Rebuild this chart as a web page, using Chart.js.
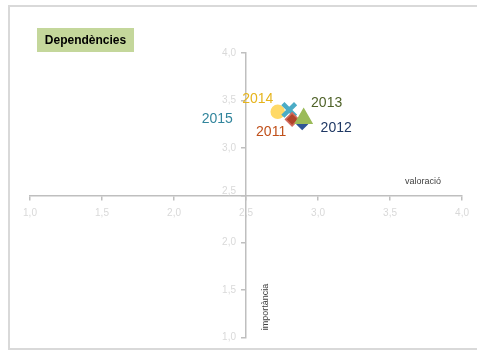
<!DOCTYPE html>
<html>
<head>
<meta charset="utf-8">
<script src="https://cdn.jsdelivr.net/npm/chart.js@4"></script>
<style>
  html, body { margin: 0; padding: 0; background: #fff; }
  #wrap { width: 477px; height: 351px; }
</style>
</head>
<body>
<div id="wrap"><canvas id="myChart"></canvas></div>
<script>
// data
const years = ['2011', '2012', '2013', '2014', '2015'];
const valoracio = [2.82, 2.89, 2.90, 2.72, 2.80];
const importancia = [3.30, 3.25, 3.31, 3.38, 3.40];
const axisTicks = [1.0, 1.5, 2.0, 2.5, 3.0, 3.5, 4.0];

const pointStyles = ['rectRot', 'rectRot', 'triangle', 'circle', 'crossRot'];
const fillColors = ['#b0442a', '#2f5597', '#9bbb59', '#ffd966', '#4bacc6'];
const edgeColors = ['#d2695c', '#2f5597', '#9bbb59', '#ffd966', '#4bacc6'];
const labelColors = ['#c0501a', '#1f3864', '#4f6228', '#e6b41c', '#31859c'];
const labelOffsets = [[-21, 13], [34, 4], [23, -15], [-20, -13], [-72, 9]];
const drawOrder = [3, 2, 1, 5, 4];

function fmt(v) { return v.toFixed(1).replace('.', ','); }

const labelsPlugin = {
    id: 'extras',
    beforeDraw(chart) {
        const c = chart.ctx;
        c.save();
        c.strokeStyle = '#d9d9d9';
        c.lineWidth = 2;
        c.strokeRect(9, 6, 470, 343);
        // title box
        c.fillStyle = '#c4d79b';
        c.fillRect(37, 28, 97, 24);
        c.fillStyle = '#000';
        c.font = 'bold 12px "Liberation Sans"';
        c.textAlign = 'center';
        c.textBaseline = 'middle';
        c.fillText('Dependències', 85.5, 40.5);
        c.restore();
    },
    afterDatasetsDraw(chart) {
        const c = chart.ctx;
        c.save();
        // y tick labels, left of the crossing axis
        const ys = chart.scales.y;
        const xAxisPx = chart.scales.x.getPixelForValue(2.5);
        c.fillStyle = '#d9d9d9';
        c.font = '10px "Liberation Sans"';
        c.textAlign = 'right';
        c.textBaseline = 'middle';
        axisTicks.forEach(v => {
            c.fillText(fmt(v), xAxisPx - 10, ys.getPixelForValue(v) - (v === 2.5 ? 4 : 0));
        });
        c.font = '14px "Liberation Sans"';
        c.textAlign = 'center';
        chart.data.datasets.forEach((ds, i) => {
            const pt = chart.getDatasetMeta(i).data[0];
            c.fillStyle = labelColors[i];
            c.fillText(ds.label, pt.x + labelOffsets[i][0], pt.y + labelOffsets[i][1]);
        });
        // axis titles
        c.fillStyle = '#404040';
        c.font = '9px "Liberation Sans"';
        c.fillText('valoració', 423, 182);
        c.translate(266, 307);
        c.rotate(-Math.PI / 2);
        c.fillText('importància', 0, 0);
        c.restore();
    }
};

function initChart() {
    const ctx = document.getElementById('myChart').getContext('2d');
    new Chart(ctx, {
        type: 'scatter',
        data: {
            datasets: years.map((y, i) => ({
                label: y,
                data: [{ x: valoracio[i], y: importancia[i] }],
                pointStyle: pointStyles[i],
                backgroundColor: fillColors[i],
                borderColor: edgeColors[i],
                borderWidth: pointStyles[i] === 'crossRot' ? 4.5 : 1.5,
                pointRadius: pointStyles[i] === 'triangle' ? 9.5 : (pointStyles[i] === 'crossRot' ? 9 : (i === 1 ? 5 : 6.5)),
                order: drawOrder[i]
            }))
        },
        options: {
            responsive: true,
            maintainAspectRatio: false,
            animation: false,
            layout: { padding: { left: 30, right: 14, top: 53, bottom: 7 } },
            plugins: {
                legend: { display: false },
                tooltip: { enabled: false }
            },
            scales: {
                x: {
                    type: 'linear',
                    min: 1, max: 4,
                    position: { y: 2.5 },
                    afterBuildTicks: s => { s.ticks = axisTicks.map(v => ({ value: v })); },
                    ticks: {
                        color: '#d9d9d9',
                        font: { family: 'Liberation Sans', size: 10 },
                        padding: 8,
                        callback: v => fmt(v)
                    },
                    grid: { drawOnChartArea: false, drawTicks: true, tickLength: 4, color: '#bfbfbf', lineWidth: 1.5 },
                    border: { display: true, color: '#bfbfbf', width: 1.5 }
                },
                y: {
                    type: 'linear',
                    min: 1, max: 4,
                    position: { x: 2.5 },
                    afterBuildTicks: s => { s.ticks = axisTicks.map(v => ({ value: v })); },
                    ticks: { display: false },
                    grid: { drawOnChartArea: false, drawTicks: true, tickLength: 4, color: '#bfbfbf', lineWidth: 1.5 },
                    border: { display: true, color: '#bfbfbf', width: 1.5 }
                }
            }
        },
        plugins: [labelsPlugin]
    });
}

document.addEventListener('DOMContentLoaded', initChart);
</script>
</body>
</html>
